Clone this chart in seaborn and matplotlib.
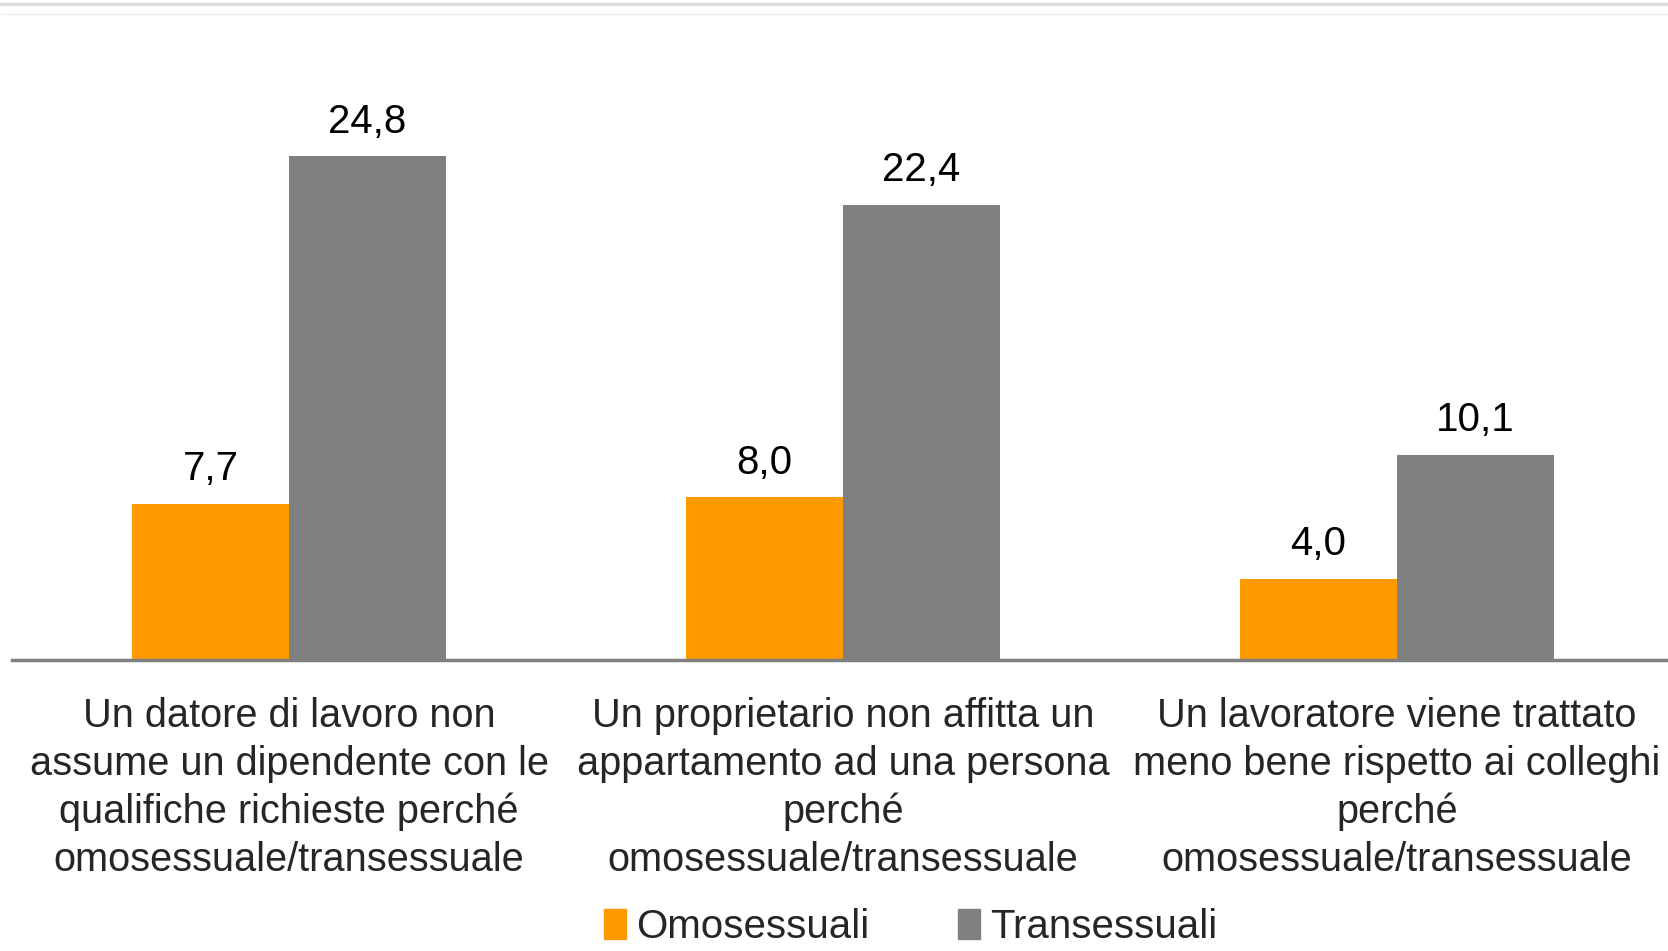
import numpy as np
import pandas as pd
import matplotlib
matplotlib.use("Agg")
import matplotlib.pyplot as plt
from matplotlib.lines import Line2D
import seaborn as sns

categories = [
    "Un datore di lavoro non\nassume un dipendente con le\nqualifiche richieste perché\nomosessuale/transessuale",
    "Un proprietario non affitta un\nappartamento ad una persona\nperché\nomosessuale/transessuale",
    "Un lavoratore viene trattato\nmeno bene rispetto ai colleghi\nperché\nomosessuale/transessuale",
]
omosessuali = [7.7, 8.0, 4.0]
transessuali = [24.8, 22.4, 10.1]
series = ["Omosessuali", "Transessuali"]
colors = ["#FF9900", "#808080"]

df = pd.DataFrame({
    "categoria": categories * 2,
    "gruppo": [series[0]] * 3 + [series[1]] * 3,
    "valore": omosessuali + transessuali,
})

sns.set_style("white")
plt.rcParams["font.family"] = ["Liberation Sans", "DejaVu Sans"]

fig = plt.figure(figsize=(16.68, 9.51), dpi=100)
ax = fig.add_axes([0.0072, 0.306, 0.9964, 0.6625])

sns.barplot(data=df, x="categoria", y="valore", hue="gruppo",
            palette=colors, width=0.567, saturation=1, ax=ax,
            linewidth=0, legend=True)

for cont in ax.containers:
    labs = [f"{b.get_height():.1f}".replace(".", ",") for b in cont]
    ax.bar_label(cont, labels=labs, padding=11, fontsize=29, color="black")

ax.set_ylim(0, 31)
ax.set_xlim(-0.5, 2.5)
ax.set_xlabel("")
ax.set_ylabel("")
ax.set_yticks([])
ax.tick_params(axis="x", length=0, pad=27, labelsize=28.6)
for t in ax.get_xticklabels():
    t.set_linespacing(1.32)
    t.set_ha("center")

for s in ["top", "right", "left"]:
    ax.spines[s].set_visible(False)
ax.spines["bottom"].set_color("#808080")
ax.spines["bottom"].set_linewidth(2.5)

# legend at the very bottom, as in the original
ax.legend_.remove()
handles = [plt.Rectangle((0, 0), 1, 1, color=c) for c in colors]
fig.legend(handles, series, loc="upper center", bbox_to_anchor=(0.546, 0.062),
           ncol=2, frameon=False, fontsize=29, handlelength=0.55, handleheight=0.75,
           handletextpad=0.25, columnspacing=2.2, borderaxespad=0)

fig.add_artist(Line2D([0, 1], [0.9955, 0.9955], color="#dcdcdc", lw=2.5))
fig.add_artist(Line2D([0, 1], [0.985, 0.985], color="#f2f2f2", lw=1))

fig.savefig("out.png", dpi=100)
